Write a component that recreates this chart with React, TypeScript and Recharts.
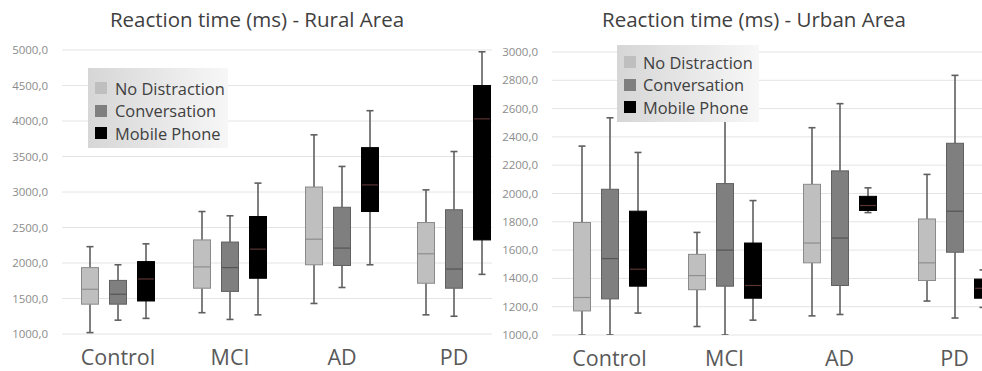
import React from 'react';
import { ComposedChart, Bar, XAxis, YAxis, CartesianGrid } from 'recharts';

// ---------- DATA ----------
const categories = ['Control', 'MCI', 'AD', 'PD'];
const seriesNames = ['No Distraction', 'Conversation', 'Mobile Phone'];

// each entry: [min, q1, median, q3, max] per category
const ruralNoDistraction = [
  [1020, 1420, 1630, 1935, 2230],
  [1300, 1645, 1945, 2325, 2725],
  [1430, 1975, 2335, 3070, 3805],
  [1270, 1715, 2130, 2570, 3030],
];
const ruralConversation = [
  [1195, 1420, 1560, 1755, 1975],
  [1205, 1600, 1935, 2295, 2665],
  [1655, 1965, 2210, 2785, 3360],
  [1250, 1645, 1915, 2750, 3570],
];
const ruralMobilePhone = [
  [1220, 1465, 1775, 2020, 2270],
  [1270, 1785, 2195, 2655, 3125],
  [1975, 2725, 3100, 3625, 4145],
  [1840, 2325, 4030, 4500, 4975],
];

const urbanNoDistraction = [
  [1000, 1170, 1265, 1795, 2335],
  [1060, 1320, 1420, 1570, 1725],
  [1135, 1510, 1650, 2065, 2465],
  [1240, 1385, 1510, 1820, 2135],
];
const urbanConversation = [
  [1000, 1255, 1540, 2030, 2535],
  [1000, 1345, 1600, 2070, 2520],
  [1145, 1350, 1685, 2160, 2635],
  [1120, 1585, 1875, 2355, 2835],
];
const urbanMobilePhone = [
  [1155, 1345, 1465, 1875, 2290],
  [1105, 1260, 1350, 1650, 1950],
  [1865, 1880, 1915, 1980, 2040],
  [1195, 1260, 1330, 1395, 1460],
];

const ruralTicks = [1000, 1500, 2000, 2500, 3000, 3500, 4000, 4500, 5000];
const urbanTicks = [1000, 1200, 1400, 1600, 1800, 2000, 2200, 2400, 2600, 2800, 3000];

// ---------- STYLE ----------
const FONT = '"Open Sans", "Noto Sans", sans-serif';
const boxFill = ['#bfbfbf', '#7f7f7f', '#000000'];
const boxStroke = ['#8a8a8a', '#606060', '#000000'];
const medianColor = ['#8e8e8e', '#555555', '#5a3434'];
const whiskerColor = '#5f5f5f';

const buildRows = (s0: number[][], s1: number[][], s2: number[][]) =>
  categories.map((name, i) => ({ name, s0: s0[i], s1: s1[i], s2: s2[i] }));

const ruralRows = buildRows(ruralNoDistraction, ruralConversation, ruralMobilePhone);
const urbanRows = buildRows(urbanNoDistraction, urbanConversation, urbanMobilePhone);

const fmt = (v: number) => v.toFixed(1).replace('.', ',');

const makeBox = (idx: number) => (props: any) => {
  const { x, y, width, height, payload } = props;
  const key = 's' + idx;
  const vals: number[] = payload[key];
  const [mn, q1, md, q3, mx] = vals;
  const top = Math.min(y, y + height);
  const h = Math.abs(height);
  const py = (v: number) => top + ((mx - v) / (mx - mn)) * h;
  const cx = x + width / 2;
  const capW = 7;
  return (
    <g>
      <line x1={cx} x2={cx} y1={py(mx)} y2={py(q3)} stroke={whiskerColor} strokeWidth={1.6} />
      <line x1={cx} x2={cx} y1={py(q1)} y2={py(mn)} stroke={whiskerColor} strokeWidth={1.6} />
      <line x1={cx - capW / 2} x2={cx + capW / 2} y1={py(mx)} y2={py(mx)} stroke={whiskerColor} strokeWidth={1.6} />
      <line x1={cx - capW / 2} x2={cx + capW / 2} y1={py(mn)} y2={py(mn)} stroke={whiskerColor} strokeWidth={1.6} />
      <rect
        x={x + 0.5}
        y={py(q3)}
        width={width - 1}
        height={Math.max(py(q1) - py(q3), 0.5)}
        fill={boxFill[idx]}
        stroke={boxStroke[idx]}
        strokeWidth={1}
      />
      <line x1={x + 1} x2={x + width - 1} y1={py(md)} y2={py(md)} stroke={medianColor[idx]} strokeWidth={1.2} />
    </g>
  );
};

const Legend = ({ left, top, width, height, textLeft, rowTop, rowH }: any) => (
  <div
    style={{
      position: 'absolute',
      left,
      top,
      width,
      height,
      background: 'linear-gradient(to right, #d6d6d6, #f7f7f7)',
    }}
  >
    {seriesNames.map((n, i) => (
      <div
        key={n}
        style={{
          position: 'absolute',
          left: 7,
          top: rowTop + i * rowH - 11,
          height: 22,
          display: 'flex',
          alignItems: 'center',
          fontFamily: FONT,
          fontSize: 16.4,
          color: '#404040',
          whiteSpace: 'nowrap',
        }}
      >
        <span style={{ display: 'inline-block', width: 12, height: 12, background: boxFill[i], marginRight: textLeft - 7 - 12 }} />
        {n}
      </div>
    ))}
  </div>
);

const Panel = ({ rows, ticks, width, top, bottomH }: any) => (
  <ComposedChart
    width={width}
    height={371}
    data={rows}
    margin={{ top, right: 0, bottom: 0, left: 0 }}
    barSize={18}
    barGap={10}
  >
    <CartesianGrid vertical={false} stroke="#e4e4e4" strokeWidth={1} />
    <XAxis
      dataKey="name"
      axisLine={false}
      tickLine={false}
      tickSize={0}
      tickMargin={16}
      height={bottomH}
      interval={0}
      tick={{ fontFamily: FONT, fontSize: 21.5, fill: '#595959' }}
    />
    <YAxis
      type="number"
      domain={[ticks[0], ticks[ticks.length - 1]]}
      ticks={ticks}
      interval={0}
      allowDataOverflow
      axisLine={false}
      tickLine={false}
      tickSize={0}
      tickMargin={14}
      width={62}
      tickFormatter={fmt}
      tick={{ fontFamily: FONT, fontSize: 11.5, fill: '#8c8c8c' }}
    />
    {[0, 1, 2].map((i) => (
      <Bar
        key={i}
        name={seriesNames[i]}
        dataKey={(d: any) => [d['s' + i][0], d['s' + i][4]]}
        fill={boxFill[i]}
        isAnimationActive={false}
        shape={makeBox(i)}
      />
    ))}
  </ComposedChart>
);

const Title = ({ text, cx }: any) => (
  <div
    style={{
      position: 'absolute',
      left: cx - 200,
      width: 400,
      top: 5,
      textAlign: 'center',
      fontFamily: FONT,
      fontSize: 20.5,
      color: '#404040',
      whiteSpace: 'nowrap',
    }}
  >
    {text}
  </div>
);

export default function App() {
  return (
    <div
      style={{
        position: 'absolute',
        left: 0,
        top: 0,
        width: 982,
        height: 371,
        overflow: 'hidden',
        background: '#ffffff',
      }}
    >
      <div style={{ position: 'absolute', left: 0, top: 0, width: 492, height: 371, overflow: 'hidden' }}>
        <Panel rows={ruralRows} ticks={ruralTicks} width={510} top={50} bottomH={37} />
      </div>
      <div style={{ position: 'absolute', left: 490, top: 0, width: 492, height: 371, overflow: 'hidden' }}>
        <Panel rows={urbanRows} ticks={urbanTicks} width={522} top={52} bottomH={36} />
      </div>
      <Title text="Reaction time (ms) - Rural Area" cx={257} />
      <Title text="Reaction time (ms) - Urban Area" cx={754} />
      <Legend left={88} top={68} width={140} height={80} textLeft={27} rowTop={20} rowH={22.5} />
      <Legend left={617} top={45} width={142} height={77} textLeft={26} rowTop={17} rowH={22.5} />
    </div>
  );
}
